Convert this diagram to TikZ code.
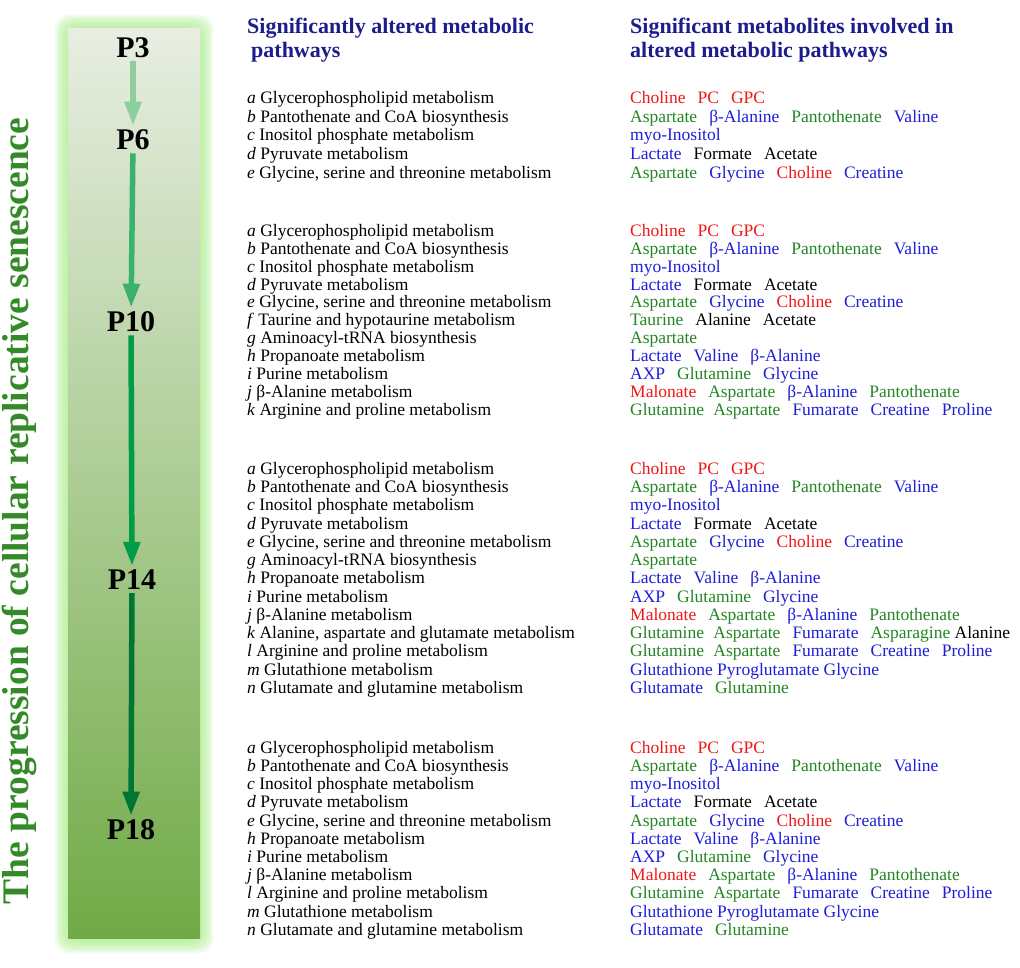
\documentclass[tikz,border=0pt]{standalone}
\usepackage{fontspec}
\setmainfont{Liberation Serif}
\usetikzlibrary{arrows.meta}
\usetikzlibrary{positioning}

\definecolor{mred}{RGB}{240,22,22}
\definecolor{mgreen}{RGB}{34,134,34}
\definecolor{mblue}{RGB}{30,30,215}
\definecolor{navy}{RGB}{28,28,140}
\definecolor{titlegreen}{RGB}{52,138,40}
\definecolor{glow}{RGB}{170,236,140}
\definecolor{bartop}{RGB}{232,238,226}
\definecolor{barbottom}{RGB}{112,170,70}
\definecolor{arrA}{RGB}{140,206,158}
\definecolor{arrB}{RGB}{58,178,110}
\definecolor{arrC}{RGB}{0,156,72}
\definecolor{arrD}{RGB}{0,118,52}

\newcommand{\mR}[1]{\textcolor{mred}{#1}}
\newcommand{\mG}[1]{\textcolor{mgreen}{#1}}
\newcommand{\mB}[1]{\textcolor{mblue}{#1}}
\newcommand{\gap}{\hspace{12pt}}
\newcommand{\sgap}{\hspace{5pt}}

\begin{document}
\begin{tikzpicture}[x=1pt,y=-1pt]
	\tikzset{passage/.style = {font=\bfseries\fontsize{30}{32}\selectfont, inner sep=3pt},
		header/.style = {anchor=north west, inner sep=0pt, align=left, text=navy, font=\bfseries\fontsize{22}{24}\selectfont},
		rows/.style = {anchor=north west, inner sep=0pt, align=left, font=\fontsize{17.5}{#1}\selectfont},
		parr/.style = {-{Triangle[width=16pt,length=24pt]}, line width=5.5pt, shorten <=0pt, shorten >=1pt}}
	\useasboundingbox (0,0) rectangle (1020,968);
	
	% glowing bar
	\foreach \g in {0,2,...,12}
		\fill[glow, opacity=0.18, rounded corners=14pt] (55+\g,15+\g) rectangle (213-\g,953-\g);
	\shade[top color=bartop, bottom color=barbottom] (68,29) rectangle (200,938);
	
	\node[rotate=90, text=titlegreen, font=\bfseries\fontsize{37.5}{40}\selectfont] (title) at (19,511)
	{The progression of cellular replicative senescence};
	
	% passages
	\node[passage] (P3) at (133,48) {P3};
	\node[passage] (P6) at (133,140) {P6};
	\node[passage] (P10) at (131,322) {P10};
	\node[passage] (P14) at (132,580) {P14};
	\node[passage] (P18) at (131,830) {P18};
	\draw[parr, arrA] (P3) -- (P6);
	\draw[parr, arrB] (P6) -- (P10);
	\draw[parr, arrC] (P10) -- (P14);
	\draw[parr, arrD] (P14) -- (P18);
	
	% headers
	\node[header] (hpath) at (247,18) {Significantly altered metabolic\\\hspace{4pt}pathways};
	\node[header] (hmet) at (630,18) {Significant metabolites involved in\\altered metabolic pathways};
	
	% P6
	\node[rows=18.75pt] (path6) at (247,91)
	{\textit{a} Glycerophospholipid metabolism \\
		\textit{b} Pantothenate and CoA biosynthesis \\
		\textit{c} Inositol phosphate metabolism \\
		\textit{d} Pyruvate metabolism \\
		\textit{e} Glycine, serine and threonine metabolism};
	\node[rows=18.75pt] (met6) at (630,91)
	{\mR{Choline}\gap\mR{PC}\gap\mR{GPC} \\
		\mG{Aspartate}\gap\mB{β-Alanine}\gap\mG{Pantothenate}\gap\mB{Valine} \\
		\mB{myo-Inositol} \\
		\mB{Lactate}\gap Formate\gap Acetate \\
		\mG{Aspartate}\gap\mB{Glycine}\gap\mR{Choline}\gap\mB{Creatine}};
	
	% P10
	\node[rows=17.9pt] (path10) at (247,224)
	{\textit{a} Glycerophospholipid metabolism \\
		\textit{b} Pantothenate and CoA biosynthesis \\
		\textit{c} Inositol phosphate metabolism \\
		\textit{d} Pyruvate metabolism \\
		\textit{e} Glycine, serine and threonine metabolism \\
		\textit{f} Taurine and hypotaurine metabolism \\
		\textit{g} Aminoacyl-tRNA biosynthesis \\
		\textit{h} Propanoate metabolism \\
		\textit{i} Purine metabolism \\
		\textit{j} β-Alanine metabolism \\
		\textit{k} Arginine and proline metabolism};
	\node[rows=17.9pt] (met10) at (630,224)
	{\mR{Choline}\gap\mR{PC}\gap\mR{GPC} \\
		\mG{Aspartate}\gap\mB{β-Alanine}\gap\mG{Pantothenate}\gap\mB{Valine} \\
		\mB{myo-Inositol} \\
		\mB{Lactate}\gap Formate\gap Acetate \\
		\mG{Aspartate}\gap\mB{Glycine}\gap\mR{Choline}\gap\mB{Creatine} \\
		\mG{Taurine}\gap Alanine\gap Acetate \\
		\mG{Aspartate} \\
		\mB{Lactate}\gap\mB{Valine}\gap\mB{β-Alanine} \\
		\mB{AXP}\gap\mG{Glutamine}\gap\mB{Glycine} \\
		\mR{Malonate}\gap\mG{Aspartate}\gap\mB{β-Alanine}\gap\mG{Pantothenate} \\
		\mG{Glutamine} \sgap\mG{Aspartate}\gap\mB{Fumarate}\gap\mB{Creatine}\gap\mB{Proline}};
	
	% P14
	\node[rows=18.25pt] (path14) at (247,462)
	{\textit{a} Glycerophospholipid metabolism \\
		\textit{b} Pantothenate and CoA biosynthesis \\
		\textit{c} Inositol phosphate metabolism \\
		\textit{d} Pyruvate metabolism \\
		\textit{e} Glycine, serine and threonine metabolism \\
		\textit{g} Aminoacyl-tRNA biosynthesis \\
		\textit{h} Propanoate metabolism \\
		\textit{i} Purine metabolism \\
		\textit{j} β-Alanine metabolism \\
		\textit{k} Alanine, aspartate and glutamate metabolism \\
		\textit{l} Arginine and proline metabolism \\
		\textit{m} Glutathione metabolism \\
		\textit{n} Glutamate and glutamine metabolism};
	\node[rows=18.25pt] (met14) at (630,462)
	{\mR{Choline}\gap\mR{PC}\gap\mR{GPC} \\
		\mG{Aspartate}\gap\mB{β-Alanine}\gap\mG{Pantothenate}\gap\mB{Valine} \\
		\mB{myo-Inositol} \\
		\mB{Lactate}\gap Formate\gap Acetate \\
		\mG{Aspartate}\gap\mB{Glycine}\gap\mR{Choline}\gap\mB{Creatine} \\
		\mG{Aspartate} \\
		\mB{Lactate}\gap\mB{Valine}\gap\mB{β-Alanine} \\
		\mB{AXP}\gap\mG{Glutamine}\gap\mB{Glycine} \\
		\mR{Malonate}\gap\mG{Aspartate}\gap\mB{β-Alanine}\gap\mG{Pantothenate} \\
		\mG{Glutamine} \sgap\mG{Aspartate}\gap\mB{Fumarate}\gap\mG{Asparagine} Alanine \\
		\mG{Glutamine} \sgap\mG{Aspartate}\gap\mB{Fumarate}\gap\mB{Creatine}\gap\mB{Proline} \\
		\mB{Glutathione} \mB{Pyroglutamate} \mB{Glycine} \\
		\mB{Glutamate}\gap\mG{Glutamine}};
	
	% P18
	\node[rows=18.2pt] (path18) at (247,741)
	{\textit{a} Glycerophospholipid metabolism \\
		\textit{b} Pantothenate and CoA biosynthesis \\
		\textit{c} Inositol phosphate metabolism \\
		\textit{d} Pyruvate metabolism \\
		\textit{e} Glycine, serine and threonine metabolism \\
		\textit{h} Propanoate metabolism \\
		\textit{i} Purine metabolism \\
		\textit{j} β-Alanine metabolism \\
		\textit{l} Arginine and proline metabolism \\
		\textit{m} Glutathione metabolism \\
		\textit{n} Glutamate and glutamine metabolism};
	\node[rows=18.2pt] (met18) at (630,741)
	{\mR{Choline}\gap\mR{PC}\gap\mR{GPC} \\
		\mG{Aspartate}\gap\mB{β-Alanine}\gap\mG{Pantothenate}\gap\mB{Valine} \\
		\mB{myo-Inositol} \\
		\mB{Lactate}\gap Formate\gap Acetate \\
		\mG{Aspartate}\gap\mB{Glycine}\gap\mR{Choline}\gap\mB{Creatine} \\
		\mB{Lactate}\gap\mB{Valine}\gap\mB{β-Alanine} \\
		\mB{AXP}\gap\mG{Glutamine}\gap\mB{Glycine} \\
		\mR{Malonate}\gap\mG{Aspartate}\gap\mB{β-Alanine}\gap\mG{Pantothenate} \\
		\mG{Glutamine} \sgap\mG{Aspartate}\gap\mB{Fumarate}\gap\mB{Creatine}\gap\mB{Proline} \\
		\mB{Glutathione} \mB{Pyroglutamate} \mB{Glycine} \\
		\mB{Glutamate}\gap\mG{Glutamine}};
	
\end{tikzpicture}
\end{document}
